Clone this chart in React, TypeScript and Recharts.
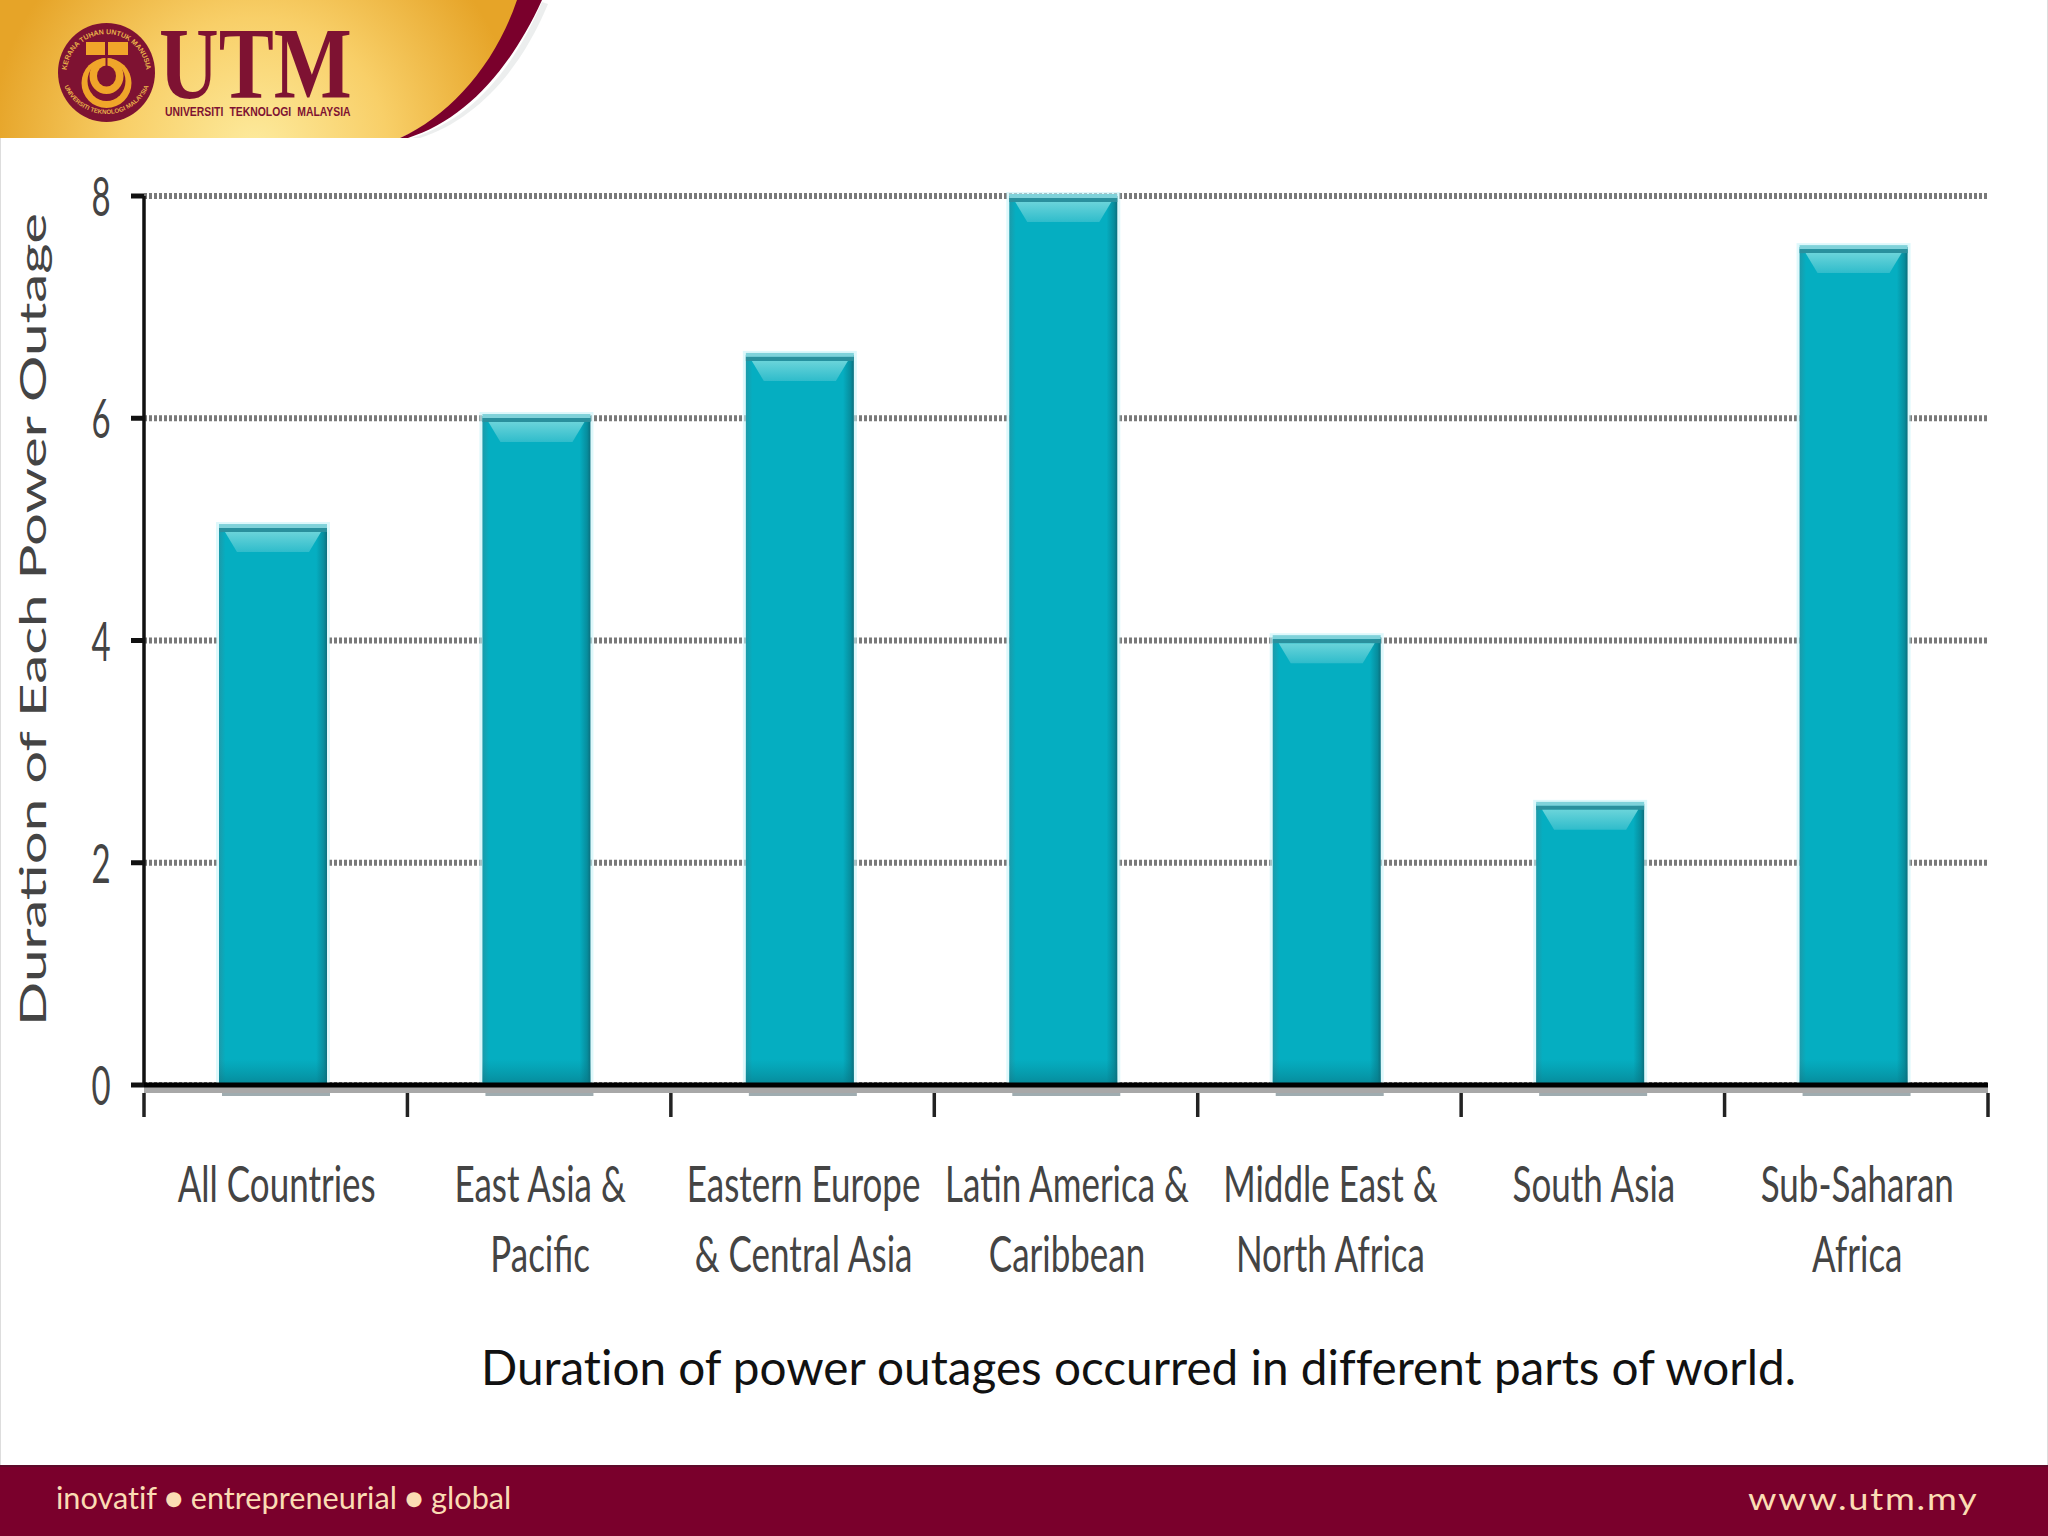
import React from 'react';
import { BarChart, Bar, XAxis, YAxis, CartesianGrid, ReferenceLine } from 'recharts';

const categories = [
  'All Countries',
  'East Asia &\nPacific',
  'Eastern Europe\n& Central Asia',
  'Latin America &\nCaribbean',
  'Middle East &\nNorth Africa',
  'South Asia',
  'Sub-Saharan\nAfrica',
];
const durations = [5.03, 6.02, 6.57, 8, 4.03, 2.53, 7.54];
const yTicks = [0, 2, 4, 6, 8];

const chartData = categories.map((name, i) => ({ name, duration: durations[i] }));

const labelFont = 'Lato, "Open Sans", sans-serif';
const maroon = '#7a002c';
const logoRed = '#7e1232';
const logoGold = '#f0a52a';

// condensed category labels, the tick marks sit on the band edges
const CategoryTick = (props: any) => {
  const { x, y, payload, index, width, visibleTicksCount } = props;
  const half = width / visibleTicksCount / 2;
  const lines = String(payload.value).split('\n');
  return (
    <g>
      <line x1={x - half} x2={x - half} y1={y} y2={y + 24} stroke="#222" strokeWidth={3.5} />
      {index === visibleTicksCount - 1 && (
        <line x1={x + half} x2={x + half} y1={y} y2={y + 24} stroke="#222" strokeWidth={3.5} />
      )}
      {lines.map((line, i) => (
        <text
          key={line}
          transform={`translate(${x + 1},${y + 109 + i * 70}) scale(0.7,1)`}
          textAnchor="middle"
          fontFamily={labelFont}
          fontSize={50}
          fill="#444"
        >
          {line}
        </text>
      ))}
    </g>
  );
};

const ValueTick = (props: any) => {
  const { x, y, payload } = props;
  return (
    <text
      transform={`translate(${x - 28},${y + 20}) scale(0.6,1)`}
      textAnchor="middle"
      fontFamily={labelFont}
      fontSize={55}
      fill="#444"
    >
      {payload.value}
    </text>
  );
};

const AxisTitle = (props: any) => {
  const { viewBox } = props;
  return (
    <text
      transform={`translate(46,${viewBox.y + viewBox.height / 2 - 21}) rotate(-90) scale(1.62,1)`}
      textAnchor="middle"
      fontFamily={labelFont}
      fontSize={36}
      fill="#444"
    >
      Duration of Each Power Outage
    </text>
  );
};

// bevelled bar: pale rim, dark top strip, highlight trapezoid and a soft shadow under the axis
const BevelBar = (props: any) => {
  const { y, width, height } = props;
  const x = props.x - 3;
  const bottom = y + height;
  return (
    <g>
      <rect x={x + 3} y={bottom} width={width} height={11} fill="#7f9095" opacity={0.75} />
      <rect x={x - 3} y={y - 4} width={width + 6} height={height + 4} fill="#c8f4f8" opacity={0.6} />
      <rect x={x} y={y} width={width} height={height} fill="url(#barFace)" />
      <rect x={x} y={bottom - 26} width={width} height={26} fill="url(#barFoot)" />
      <rect x={x} y={y - 2} width={width} height={4} fill="#7fd2da" />
      <rect x={x} y={y + 2} width={width} height={4} fill="#2a909d" />
      <path
        d={`M${x + 6} ${y + 6}H${x + width - 6}L${x + width - 18} ${y + 26}H${x + 18}Z`}
        fill="url(#barShine)"
      />
    </g>
  );
};

const AxisShadow = (props: any) => {
  const { x1, x2, y1 } = props;
  return <rect x={x1} y={y1 + 2} width={x2 - x1} height={6} fill="#a8a8a8" />;
};

const Banner = () => (
  <svg width={600} height={150} style={{ position: 'absolute', left: 0, top: 0 }}>
    <defs>
      <radialGradient id="bannerFill" gradientUnits="userSpaceOnUse" cx={255} cy={150} r={265}>
        <stop offset="0%" stopColor="#fdeb9e" />
        <stop offset="50%" stopColor="#f8cf68" />
        <stop offset="100%" stopColor="#e6a428" />
      </radialGradient>
      <path id="ringTop" d="M68 85A40 40 0 1 1 145 85" />
      <path id="ringBottom" d="M60.5 68A46 46 0 1 0 152.5 68" />
    </defs>
    <path d="M0 0H520C500 60 455 115 400 138H0Z" fill="url(#bannerFill)" />
    <path d="M517 0H542C510 70 465 120 408 138H400C450 115 495 65 517 0Z" fill={maroon} />
    <path d="M542 2C512 72 470 120 412 138H420C475 120 520 72 548 4Z" fill="#dfe3e3" opacity={0.6} />
    <ellipse cx={106.5} cy={72.5} rx={48.5} ry={49.5} fill={logoRed} />
    <text fontSize={7} fontFamily="Liberation Sans" fontWeight={700} fill="#e8b04a">
      <textPath href="#ringTop" startOffset="50%" textAnchor="middle">KERANA TUHAN UNTUK MANUSIA</textPath>
    </text>
    <text fontSize={6.2} fontFamily="Liberation Sans" fontWeight={700} fill="#e8b04a">
      <textPath href="#ringBottom" startOffset="50%" textAnchor="middle">UNIVERSITI TEKNOLOGI MALAYSIA</textPath>
    </text>
    <path d="M86 42H105V55H86ZM108 42H128V55H108Z" fill={logoGold} />
    <ellipse cx={106.5} cy={83} rx={25} ry={25} fill={logoGold} />
    <ellipse cx={106.5} cy={81} rx={19} ry={20} fill={logoRed} />
    <ellipse cx={106.5} cy={76} rx={17} ry={18} fill={logoGold} />
    <ellipse cx={106.5} cy={76} rx={9.5} ry={10.5} fill={logoRed} />
    <rect x={105.5} y={52} width={2} height={16} fill={logoRed} />
    <text
      transform="translate(159,98) scale(0.81,1)"
      fontFamily='"Liberation Serif", serif'
      fontWeight={700}
      fontSize={102}
      fill={logoRed}
    >
      UTM
    </text>
    <text
      transform="translate(165,116) scale(0.8,1)"
      fontFamily='"Liberation Sans", sans-serif'
      fontWeight={700}
      fontSize={13}
      wordSpacing={4}
      fill={logoRed}
    >
      UNIVERSITI TEKNOLOGI MALAYSIA
    </text>
  </svg>
);

export default function App() {
  return (
    <div style={{ position: 'absolute', left: 0, top: 0, width: 2048, height: 1536, background: '#fff', overflow: 'hidden' }}>
      <Banner />
      <div style={{ position: 'absolute', left: 0, top: 0 }}>
        <BarChart
          width={2048}
          height={1300}
          data={chartData}
          margin={{ top: 196, right: 60, bottom: 11, left: 0 }}
        >
          <defs>
            <linearGradient id="barFace" x1="0" y1="0" x2="1" y2="0">
              <stop offset="0%" stopColor="#1c9aa9" />
              <stop offset="6%" stopColor="#05aec1" />
              <stop offset="90%" stopColor="#05aec1" />
              <stop offset="97%" stopColor="#078d9d" />
              <stop offset="100%" stopColor="#0b6f7d" />
            </linearGradient>
            <linearGradient id="barFoot" x1="0" y1="0" x2="0" y2="1">
              <stop offset="0%" stopColor="#07808f" stopOpacity={0} />
              <stop offset="100%" stopColor="#07707e" stopOpacity={0.6} />
            </linearGradient>
            <linearGradient id="barShine" x1="0" y1="0" x2="0" y2="1">
              <stop offset="0%" stopColor="#6ad4da" />
              <stop offset="100%" stopColor="#2fbccb" />
            </linearGradient>
          </defs>
          <CartesianGrid vertical={false} stroke="#7a7a7a" strokeWidth={6} strokeDasharray="3 2" />
          <YAxis
            domain={[0, 8]}
            ticks={yTicks}
            width={144}
            axisLine={{ stroke: '#111', strokeWidth: 3.5 }}
            tickLine={{ stroke: '#111', strokeWidth: 5 }}
            tickSize={13}
            tick={<ValueTick />}
            label={<AxisTitle />}
          />
          <XAxis
            dataKey="name"
            height={204}
            interval={0}
            axisLine={{ stroke: '#000', strokeWidth: 5 }}
            tickLine={false}
            tick={<CategoryTick />}
          />
          <ReferenceLine y={0} shape={AxisShadow} />
          <Bar dataKey="duration" barSize={108} shape={<BevelBar />} isAnimationActive={false} />
        </BarChart>
      </div>
      <div
        style={{
          position: 'absolute',
          left: 481,
          top: 1338,
          fontFamily: labelFont,
          fontSize: 47.7,
          lineHeight: '57px',
          fontVariantLigatures: 'none',
          color: '#111',
          whiteSpace: 'nowrap',
        }}
      >
        Duration of power outages occurred in different parts of world.
      </div>
      <div style={{ position: 'absolute', left: 0, top: 1465, width: 2048, height: 71, background: maroon, borderTop: '2px solid #5e0a2a', boxSizing: 'border-box' }} />
      <div style={{ position: 'absolute', left: 0, top: 138, width: 1, height: 1327, background: '#ddd' }} />
      <div style={{ position: 'absolute', left: 2047, top: 0, width: 1, height: 1465, background: '#ddd' }} />
      <div
        style={{
          position: 'absolute',
          left: 56,
          top: 1480,
          fontFamily: labelFont,
          fontSize: 30.7,
          lineHeight: '36px',
          fontVariantLigatures: 'none',
          color: '#fbdcb4',
          whiteSpace: 'nowrap',
        }}
      >
        inovatif ● entrepreneurial ● global
      </div>
      <div
        style={{
          position: 'absolute',
          left: 1748,
          top: 1480,
          fontFamily: labelFont,
          fontSize: 31,
          lineHeight: '36px',
          letterSpacing: 1.5,
          color: '#fbdcb4',
          whiteSpace: 'nowrap',
          transform: 'scaleX(1.17)',
          transformOrigin: 'left',
        }}
      >
        www.utm.my
      </div>
    </div>
  );
}
